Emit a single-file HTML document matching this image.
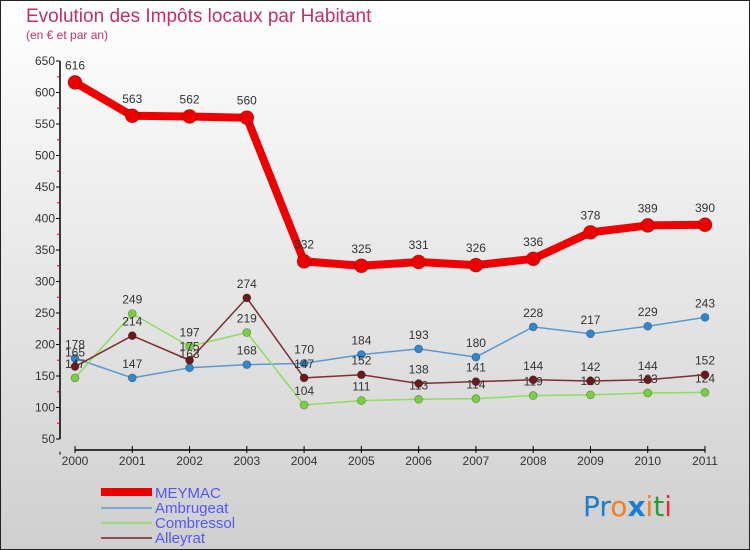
<!DOCTYPE html>
<html><head><meta charset="utf-8"><style>
body{margin:0;width:750px;height:550px;overflow:hidden;font-family:"Liberation Sans",sans-serif}
svg{display:block}
</style></head><body>
<svg id="chart" width="750" height="550">
<defs><linearGradient id="bg" x1="0" y1="0" x2="0" y2="1"><stop offset="0" stop-color="#ffffff"/><stop offset="1" stop-color="#cfcfcf"/></linearGradient></defs>
<rect x="0.5" y="0.5" width="749" height="549" fill="url(#bg)" stroke="#222"/>
<text x="26" y="22" font-size="19" fill="#c0306a">Evolution des Impôts locaux par Habitant</text>
<text x="26" y="39" font-size="12" fill="#c0306a">(en € et par an)</text>
<g id="axes"></g>
<g id="series"></g>
<g id="legend">
<rect x="101" y="488" width="51" height="8" fill="#e00"/>
<text x="155" y="498" font-size="15" fill="#5555ff">MEYMAC</text>
<line x1="101" y1="508" x2="152" y2="508" stroke="#7fa9cc" stroke-width="2"/>
<text x="155" y="513" font-size="15" fill="#5555ff">Ambrugeat</text>
<line x1="101" y1="523" x2="152" y2="523" stroke="#9ed878" stroke-width="2"/>
<text x="155" y="528" font-size="15" fill="#5555ff">Combressol</text>
<line x1="101" y1="538" x2="152" y2="538" stroke="#8a5050" stroke-width="2"/>
<text x="155" y="543" font-size="15" fill="#5555ff">Alleyrat</text>
</g>
<text x="583" y="516" font-size="28" font-family="'DejaVu Sans',sans-serif"><tspan fill="#1a7fd0">Pr</tspan><tspan fill="#f08020">o</tspan><tspan fill="#1a7fd0" font-weight="bold">x</tspan><tspan fill="#f08020">i</tspan><tspan fill="#2a9a3a">t</tspan><tspan fill="#e03030">i</tspan></text>
</svg>
<script>
const years=["2000","2001","2002","2003","2004","2005","2006","2007","2008","2009","2010","2011"];
const yTicks=[50,100,150,200,250,300,350,400,450,500,550,600,650];
const meymac=[616,563,562,560,332,325,331,326,336,378,389,390];
const ambrugeat=[178,147,163,168,170,184,193,180,228,217,229,243];
const combressol=[147,249,197,219,104,111,113,114,119,120,123,124];
const alleyrat=[165,214,175,274,147,152,138,141,144,142,144,152];
const NS="http://www.w3.org/2000/svg";
const X=i=>75+i*(630/11);
const Y=v=>439-(v-50)*(378/600);
function mk(tag,attrs,parent){const e=document.createElementNS(NS,tag);for(const k in attrs)e.setAttribute(k,attrs[k]);parent.appendChild(e);return e;}
const axes=document.getElementById('axes');
let a=mk('line',{x1:60,y1:Y(650),x2:60,y2:Y(50),stroke:'#000','stroke-width':1.5},axes);


a=mk('line',{x1:75,y1:450,x2:705,y2:450,stroke:'#000','stroke-width':1.5},axes);


yTicks.forEach((v,i)=>{
 let t=mk('line',{x1:56,y1:Y(v),x2:60,y2:Y(v),stroke:'#000'},axes);
 
 
 if(i<yTicks.length-1){let m=mk('line',{x1:57,y1:Y(v+25),x2:60,y2:Y(v+25),stroke:'#d00'},axes);
 
 }
 let l=mk('text',{x:55,y:Y(v)+4,'font-size':12,fill:'#333','text-anchor':'end'},axes);l.textContent=v;
 
 
});
const lab=mk('line',{x1:60,y1:Y(25),x2:60,y2:Y(30),stroke:'#000'},axes);


years.forEach((y,i)=>{
 let t=mk('line',{x1:X(i),y1:446,x2:X(i),y2:453,stroke:'#000'},axes);
 
 
 let l=mk('text',{x:X(i),y:465,'font-size':12,fill:'#333','text-anchor':'middle'},axes);l.textContent=y;
 
 
});
const S=document.getElementById('series');
function draw(name,vals,color,lw,r,dot){
 const g=mk('g',{},S);
 
 
 const p=mk('polyline',{points:vals.map((v,i)=>X(i)+','+Y(v)).join(' '),fill:'none',stroke:color,'stroke-width':lw,'stroke-linejoin':'round'},g);
 
 
 vals.forEach((v,i)=>{
  const c=mk('circle',{cx:X(i),cy:Y(v),r:r,fill:dot,stroke:'rgba(0,0,0,0.3)','stroke-width':0.8},g);
  
  
  const t=mk('text',{x:X(i),y:Y(v)-(r+6),'font-size':12,fill:'#333','text-anchor':'middle'},g);
  t.textContent=v;
  
  
 });
}
draw('ambrugeat',ambrugeat,'#5a9ad0',1.5,4,'#2f87cf');
draw('combressol',combressol,'#8fdc60',1.5,4,'#78d040');
draw('alleyrat',alleyrat,'#7a3030',1.5,4,'#6a1a1a');
draw('meymac',meymac,'#ee0000',8,7,'#ee0000');
</script>
</body></html>
